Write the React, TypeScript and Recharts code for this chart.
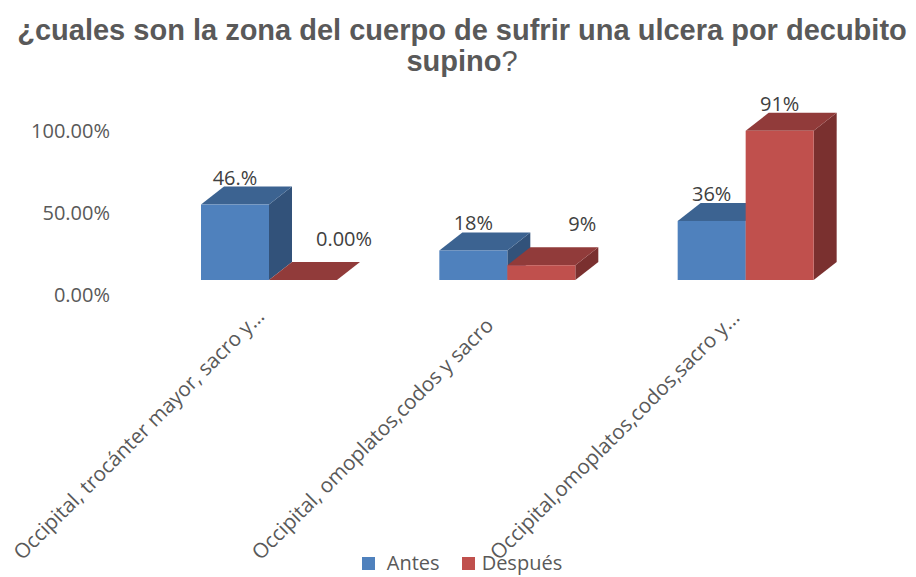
import React from 'react';
import { BarChart, Bar, XAxis, YAxis, LabelList, Legend } from 'recharts';

const categories = [
  'Occipital, trocánter mayor, sacro y...',
  'Occipital, omoplatos,codos y sacro',
  'Occipital,omoplatos,codos,sacro y...',
];
const antes = [0.46, 0.18, 0.36];
const despues = [0, 0.09, 0.91];
const antesLabels = ['46.%', '18%', '36%'];
const despuesLabels = ['0.00%', '9%', '91%'];
const yTicks = [0, 0.5, 1];

const data = categories.map((c, i) => ({
  name: c,
  antes: antes[i],
  despues: despues[i],
  antesLabel: antesLabels[i],
  despuesLabel: despuesLabels[i],
}));

const DX = 23;
const DY = 18;

const makeShape = (front: string, top: string, side: string) => (props: any) => {
  const { x, y, width, height } = props;
  const w = width;
  const h = Math.max(0, height);
  return (
    <g>
      <polygon
        points={`${x + w},${y} ${x + w + DX},${y - DY} ${x + w + DX},${y + h - DY} ${x + w},${y + h}`}
        fill={side}
      />
      <polygon
        points={`${x},${y} ${x + DX},${y - DY} ${x + w + DX},${y - DY} ${x + w},${y}`}
        fill={top}
      />
      {h > 0 && <rect x={x} y={y} width={w} height={h} fill={front} />}
    </g>
  );
};

const blueShape = makeShape('#4F81BD', '#3C6391', '#32527A');
const redShape = makeShape('#C0504D', '#913B3A', '#7A302F');

const makeLabel = (small: boolean) => (props: any) => {
  const { x, y, width, value, height } = props;
  const v = Number(height) / 164;
  let cx = x + width / 2;
  let by = y - DY - 2;
  if (small && v < 0.1) {
    cx = x + width + 7;
    by = y - 34;
  }
  return (
    <text x={cx} y={by} textAnchor="middle" fontFamily="'Open Sans', sans-serif" fontSize={20} fill="#404040">
      {value}
    </text>
  );
};

const XTick = (props: any) => {
  const { x, y, payload } = props;
  const sx = x - 247;
  const sy = y + 281;
  return (
    <text
      x={sx}
      y={sy}
      transform={`rotate(-45 ${sx} ${sy})`}
      textAnchor="start"
      fontFamily="'Open Sans', sans-serif"
      fontSize={20.6}
      fill="#595959"
    >
      {payload.value}
    </text>
  );
};

const YTick = (props: any) => {
  const { x, y, payload } = props;
  return (
    <text x={x} y={y + 15} dy={7} textAnchor="end" fontFamily="'Open Sans', sans-serif" fontSize={20} fill="#595959">
      {(payload.value * 100).toFixed(2) + '%'}
    </text>
  );
};

const LegendContent = (props: any) => {
  const items = props.payload || [];
  return (
    <div style={{ display: 'flex', justifyContent: 'center', alignItems: 'center', fontFamily: "'Open Sans', sans-serif", fontSize: 20, color: '#595959', lineHeight: '20px' }}>
      {items.map((it: any, i: number) => (
        <div key={i} style={{ display: 'flex', alignItems: 'center', marginRight: i === 0 ? 22 : 0 }}>
          <span style={{ display: 'inline-block', width: 13, height: 13, background: it.color, marginRight: i === 0 ? 12 : 7 }} />
          <span>{it.value}</span>
        </div>
      ))}
    </div>
  );
};

export default function App() {
  return (
    <div style={{ position: 'absolute', left: 0, top: 0, width: 916, height: 577, background: '#fff', overflow: 'hidden' }}>
      <div
        style={{
          position: 'absolute',
          left: 0,
          top: 15,
          width: 924,
          textAlign: 'center',
          fontFamily: "'Liberation Sans', Arial, sans-serif",
          fontWeight: 'bold',
          fontSize: 29,
          lineHeight: '31px',
          color: '#595959',
          whiteSpace: 'nowrap',
        }}
      >
        ¿cuales son la zona del cuerpo de sufrir una ulcera por decubito
        <br />
        supino<span style={{ fontWeight: 'normal' }}>?</span>
      </div>
      <BarChart
        width={916}
        height={577}
        data={data}
        margin={{ top: 116, right: 51, bottom: 267, left: 0 }}
        barGap={0}
        barSize={68}
        style={{ position: 'absolute', left: 0, top: 0 }}
      >
        <XAxis dataKey="name" height={30} axisLine={false} tickLine={false} tickSize={0} tickMargin={0} tick={<XTick />} interval={0} />
        <YAxis
          width={150}
          domain={[0, 1]}
          ticks={yTicks}
          axisLine={false}
          tickLine={false}
          tickSize={0}
          tickMargin={40}
          tick={<YTick />}
        />
        <Legend
          layout="horizontal"
          verticalAlign="middle"
          align="center"
          content={<LegendContent />}
          wrapperStyle={{ position: 'absolute', top: 553, left: 0, width: 924, height: 22 }}
        />
        <Bar dataKey="antes" name="Antes" fill="#4F81BD" shape={blueShape} isAnimationActive={false}>
          <LabelList dataKey="antesLabel" content={makeLabel(false)} />
        </Bar>
        <Bar dataKey="despues" name="Después" fill="#C0504D" shape={redShape} isAnimationActive={false}>
          <LabelList dataKey="despuesLabel" content={makeLabel(true)} />
        </Bar>
      </BarChart>
    </div>
  );
}
